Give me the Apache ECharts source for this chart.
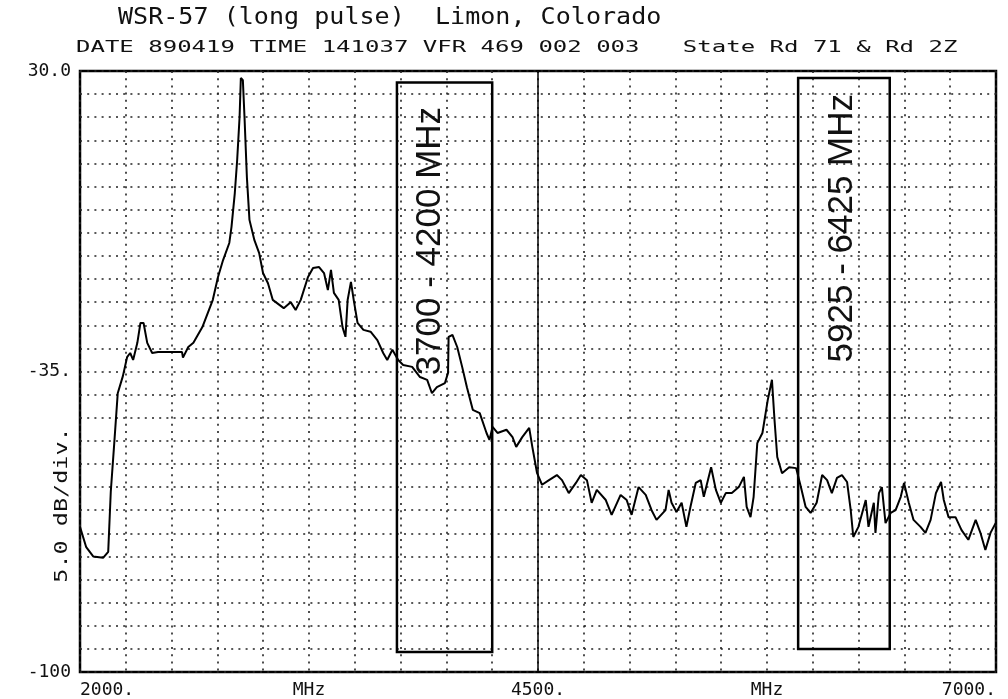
<!DOCTYPE html>
<html>
<head>
<meta charset="utf-8">
<script src="https://cdn.jsdelivr.net/npm/echarts@6/dist/echarts.min.js"></script>
<style>
html,body{margin:0;padding:0;background:#fff;}
#main{width:1008px;height:699px;}
</style>
</head>
<body>
<div id="main"></div>
<script>
// ---- data ----
const titleText = 'WSR-57 (long pulse)  Limon, Colorado';
const subtitleText = 'DATE 890419 TIME 141037 VFR 469 002 003   State Rd 71 & Rd 2Z';
const yUnitText = '5.0 dB/div.';

const freqMHz = [2000, 2034, 2072, 2126, 2154, 2168, 2187, 2206, 2234, 2257,
  2274, 2290, 2313, 2330, 2347, 2367, 2394, 2426, 2557, 2562,
  2591, 2619, 2668, 2725, 2753, 2781, 2815, 2827, 2845, 2858,
  2871, 2878, 2889, 2898, 2911, 2925, 2952, 2978, 2999, 3026,
  3052, 3112, 3150, 3177, 3205, 3244, 3272, 3305, 3332, 3353,
  3370, 3386, 3412, 3433, 3449, 3461, 3479, 3494, 3515, 3547,
  3586, 3623, 3655, 3677, 3705, 3737, 3764, 3813, 3856, 3895,
  3921, 3948, 3992, 4009, 4012, 4033, 4059, 4086, 4112, 4144,
  4182, 4219, 4235, 4252, 4279, 4328, 4361, 4381, 4414, 4452,
  4469, 4495, 4522, 4560, 4603, 4631, 4668, 4707, 4734, 4767,
  4793, 4821, 4870, 4902, 4951, 4984, 5011, 5049, 5088, 5120,
  5147, 5196, 5213, 5229, 5256, 5284, 5310, 5332, 5361, 5388,
  5405, 5445, 5471, 5498, 5525, 5558, 5596, 5624, 5639, 5660,
  5677, 5697, 5725, 5754, 5777, 5791, 5806, 5832, 5871, 5909,
  5935, 5961, 5988, 6021, 6051, 6078, 6104, 6132, 6159, 6187,
  6207, 6221, 6249, 6289, 6304, 6333, 6342, 6361, 6377, 6397,
  6425, 6452, 6480, 6498, 6524, 6550, 6588, 6615, 6643, 6672,
  6700, 6715, 6741, 6779, 6812, 6849, 6889, 6915, 6942, 6970,
  6998];

const levelDb = [-68.6, -73, -75, -75.3, -74, -61, -50.5, -39.7, -36, -31.9,
  -31, -32.5, -28.8, -24.5, -24.5, -28.8, -31, -30.8, -30.8, -32,
  -29.7, -28.8, -25.4, -19.5, -14.6, -10.9, -7.2, -3.7, 3.6, 10.8,
  20, 28.5, 28, 20, 7, -2.2, -6.6, -9.4, -13.7, -15.9,
  -19.5, -21.3, -20, -21.7, -19.5, -14.6, -12.6, -12.4, -13.7, -17.4,
  -13, -18, -19.5, -25.4, -27.5, -19.5, -15.6, -19.5, -24.5, -26,
  -26.4, -28.2, -31, -32.5, -30.3, -32.5, -33.6, -34, -36.2, -36.8,
  -39.7, -38.4, -37.5, -35.3, -27.5, -27.1, -29.7, -34, -38.4, -43.3,
  -44, -48.3, -49.8, -47, -48.3, -47.6, -49.2, -51.3, -49.2, -47.2,
  -51.3, -57, -59.5, -58.5, -57.4, -58.5, -61.3, -59.1, -57.4, -58.5,
  -63.4, -60.6, -62.8, -66, -61.7, -62.8, -66, -60, -61.7, -65,
  -67.1, -65, -60.6, -63.4, -65.4, -63.4, -68.6, -64.3, -59.1, -58.5,
  -62.1, -55.7, -60.6, -63.4, -61.3, -61.3, -60, -57.8, -64.3, -66.5,
  -62.1, -50.5, -48.3, -41.2, -36.8, -45.5, -53.5, -57, -55.7, -55.9,
  -60, -64.3, -65.6, -63.4, -57.4, -58.5, -61.3, -58, -57.4, -58.9,
  -65, -70.8, -68.6, -62.8, -68.6, -63.4, -69.9, -61.3, -60, -67.8,
  -65.6, -65, -62.1, -59.1, -63.4, -67.1, -68.6, -69.9, -67.1, -61.3,
  -58.9, -62.8, -66.5, -66.5, -69.3, -71.4, -67.1, -69.9, -73.6, -69.9,
  -67.8];

const xLabelValues = [2000, 3250, 4500, 5750, 7000];
const xLabelTexts = ['2000.', 'MHz', '4500.', 'MHz', '7000.'];
const yLabelValues = [30, -35, -100];
const yLabelTexts = ['30.0', '-35.', '-100'];

// annotated bands (MHz, hand-drawn boxes) and their dB extent
const bandNames = ['3700 - 4200 MHz', '5925 - 6425 MHz'];
const bandStart = [3730, 5920];
const bandEnd = [4250, 6420];
const bandTop = [27.5, 28.5];
const bandBottom = [-95.7, -95.0];
const bandLabelFreq = [3915, 6160];
const bandLabelDb = [-6.8, -4];

const centerLineMHz = 4500;

// ---- chart ----
const chart = echarts.init(document.getElementById('main'), null, {renderer: 'canvas'});
const mono = '"DejaVu Sans Mono", "Liberation Mono", monospace';
const ink = '#111';

const seriesData = freqMHz.map((f, i) => [f, levelDb[i]]);

const option = {
  backgroundColor: '#ffffff',
  animation: false,
  grid: {
    left: 80, right: 12, top: 71, bottom: 27,
    show: true, borderColor: '#000', borderWidth: 2.5, backgroundColor: 'transparent'
  },
  xAxis: {
    type: 'value', min: 2000, max: 7000, interval: 250,
    axisLine: {show: false}, axisTick: {show: false},
    splitLine: {show: true, lineStyle: {color: '#222', width: 1.6, type: [2, 5.2]}},
    axisLabel: {
      show: true, margin: 9, color: ink, fontFamily: mono, fontSize: 18,
      showMinLabel: true, showMaxLabel: true,
      alignMinLabel: 'left', alignMaxLabel: 'right',
      formatter: function (v) {
        const i = xLabelValues.indexOf(v);
        return i >= 0 ? xLabelTexts[i] : '';
      }
    }
  },
  yAxis: {
    type: 'value', min: -100, max: 30, interval: 5,
    axisLine: {show: false}, axisTick: {show: false},
    splitLine: {show: true, lineStyle: {color: '#222', width: 1.6, type: [2, 5.2]}},
    axisLabel: {
      show: true, margin: 9, color: ink, fontFamily: mono, fontSize: 18,
      showMinLabel: true, showMaxLabel: true,
      formatter: function (v) {
        const i = yLabelValues.indexOf(v);
        return i >= 0 ? yLabelTexts[i] : '';
      }
    }
  },
  graphic: [
    {type: 'text', x: 118, y: 18, scaleX: 1.09, silent: true,
     style: {text: titleText, font: '23px ' + mono, fill: ink,
             align: 'left', verticalAlign: 'middle', textAlign: 'left', textVerticalAlign: 'middle'}},
    {type: 'text', x: 76, y: 48, scaleX: 1.50, silent: true,
     style: {text: subtitleText, font: '16px ' + mono, fill: ink,
             align: 'left', verticalAlign: 'middle', textAlign: 'left', textVerticalAlign: 'middle'}},
    {type: 'text', x: 63, y: 505, rotation: Math.PI / 2, scaleX: 1.38, silent: true,
     style: {text: yUnitText, font: '17px ' + mono, fill: ink,
             align: 'center', verticalAlign: 'middle', textAlign: 'center', textVerticalAlign: 'middle'}}
  ],
  series: [{
    type: 'line',
    data: seriesData,
    showSymbol: false,
    symbol: 'none',
    smooth: false,
    lineStyle: {color: '#000', width: 2},
    silent: true,
    z: 5,
    markLine: {
      silent: true, symbol: ['none', 'none'],
      label: {show: false},
      lineStyle: {color: '#000', type: 'solid', width: 1.5},
      data: [{xAxis: centerLineMHz}]
    },
    markArea: {
      silent: true,
      label: {show: false},
      itemStyle: {color: 'rgba(0,0,0,0)', borderColor: '#000', borderWidth: 2.5},
      data: bandNames.map((n, i) => [
        {xAxis: bandStart[i], yAxis: bandTop[i]},
        {xAxis: bandEnd[i], yAxis: bandBottom[i]}
      ])
    },
    markPoint: {
      silent: true,
      symbol: 'circle', symbolSize: 0,
      itemStyle: {color: 'rgba(0,0,0,0)'},
      label: {
        show: true, position: 'inside', rotate: 90,
        color: '#111', fontFamily: '"Liberation Sans", Arial, sans-serif', fontSize: 35,
        formatter: function (p) { return p.name; }
      },
      data: bandNames.map((n, i) => ({name: n, coord: [bandLabelFreq[i], bandLabelDb[i]]}))
    }
  }]
};
chart.setOption(option);
</script>
</body>
</html>
